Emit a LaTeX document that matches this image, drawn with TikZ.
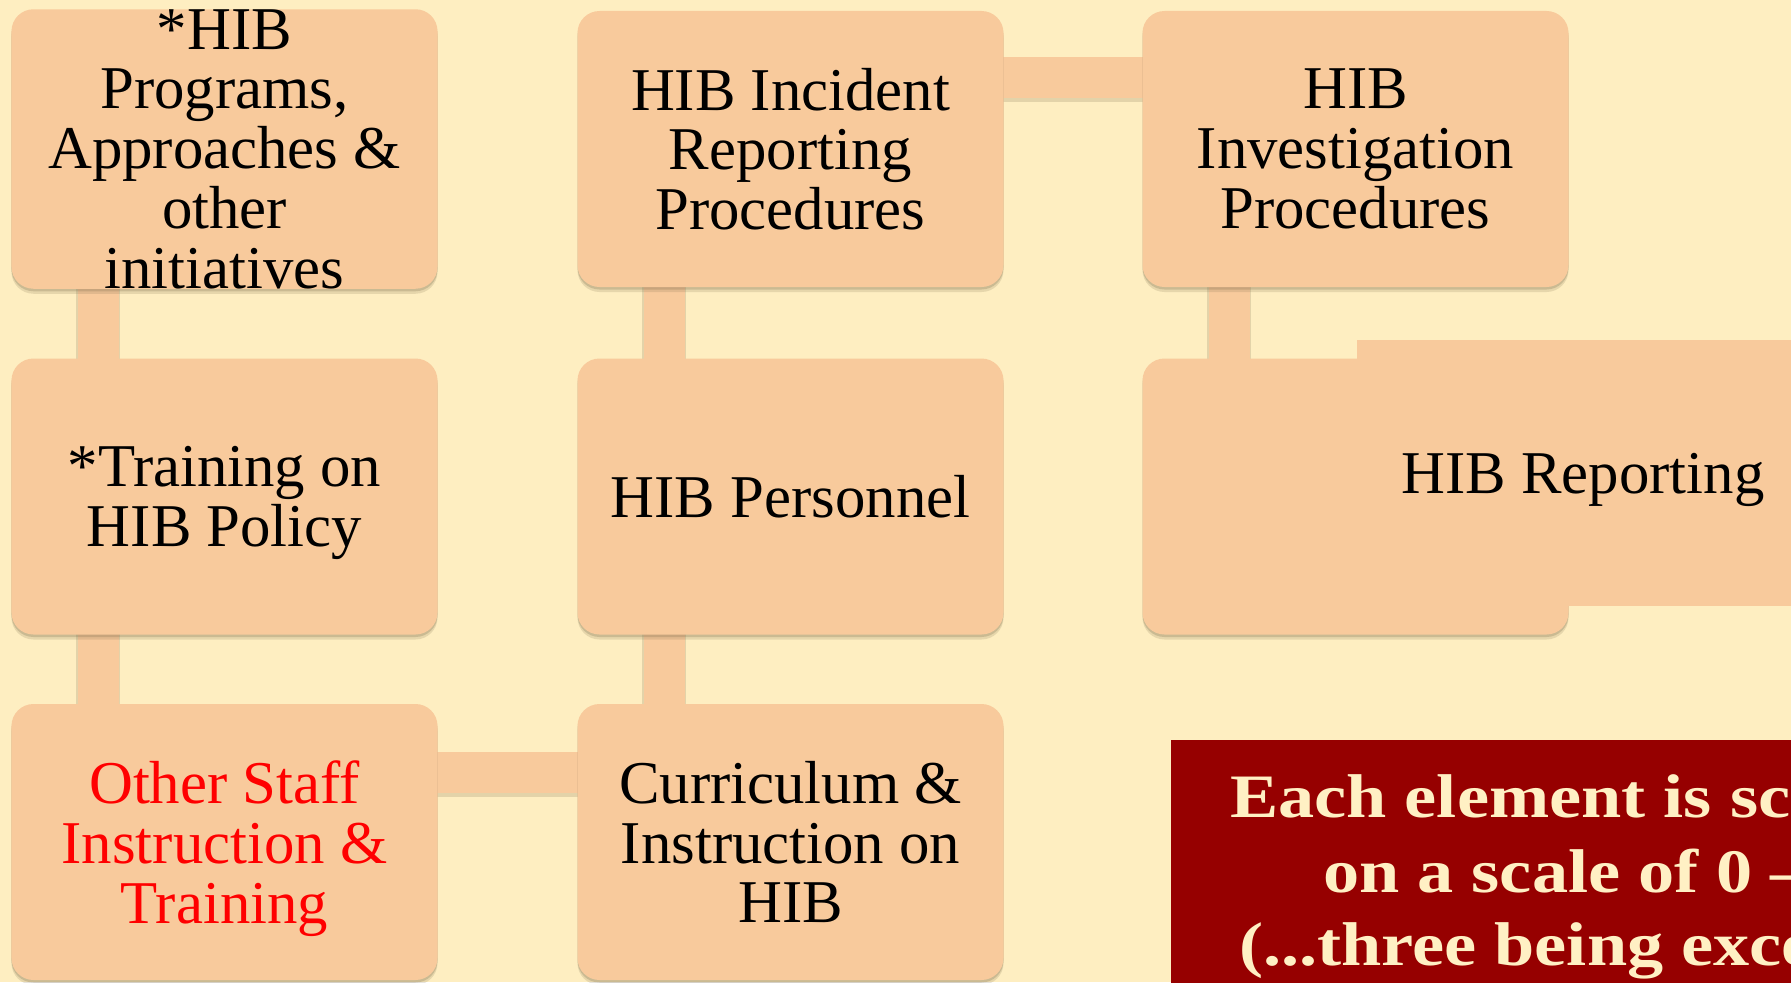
\documentclass[tikz,border=0pt]{standalone}
\usepackage{fontspec}
\setmainfont{Liberation Serif}
\newfontfamily\notefont[FakeStretch=1.17]{Liberation Serif}
\usetikzlibrary{shadows}
\definecolor{bgc}{HTML}{FEEEC1}
\definecolor{boxc}{HTML}{F8CA9C}
\definecolor{redbox}{HTML}{960000}
\definecolor{cream}{HTML}{FFF0C4}
\definecolor{shadc}{HTML}{7A6A4A}
\pgfdeclarelayer{bg}
\pgfdeclarelayer{conn}
\pgfsetlayers{bg,conn,main}
\newcommand{\nodepth}[1]{\raisebox{0pt}[\height][0pt]{#1}}
\tikzset{
  box/.style={rectangle, rounded corners=22bp, fill=boxc, minimum width=426bp,
    minimum height=276bp, inner sep=0pt, align=center, text=black,
    font=\fontsize{61}{60}\selectfont,
    drop shadow={shadow xshift=0bp, shadow yshift=-5bp, opacity=.18, fill=shadc},
    drop shadow={shadow xshift=0bp, shadow yshift=-2.5bp, opacity=.25, fill=shadc}},
  repbox/.style={rectangle, fill=boxc, minimum width=452bp, minimum height=266bp,
    inner sep=0pt, align=center, text=black, font=\fontsize{61}{60}\selectfont},
  bar/.style={line width=41bp, draw=boxc, shorten <=-12bp, shorten >=-12bp,
    preaction={draw=shadc, draw opacity=.2, line width=44bp,
      transform canvas={yshift=-2bp}}},
  notebox/.style={rectangle, fill=redbox, minimum width=700bp, minimum height=260bp,
    inner sep=0pt},
  notetext/.style={inner sep=0pt, text=cream, font=\notefont\bfseries\fontsize{62}{74}\selectfont}
}
\begin{document}
\begin{tikzpicture}[x=1bp,y=-1bp]
\useasboundingbox (0,0) rectangle (1791,982);
\begin{pgfonlayer}{bg}
  \fill[bgc] (0,0) rectangle (1791,982);
\end{pgfonlayer}
\clip (0,0) rectangle (1791,982);

\node[box] (b11) at (224.5,149) {*HIB\\Programs,\\Approaches \&\\other\\initiatives};
\node[box] (b12) at (790.5,149) {HIB Incident\\Reporting\\Procedures};
\node[box] (b13) at (1355.5,149) {HIB\\Investigation\\Procedures};
\node[box] (b21) at (224.5,496.5) {*Training on\\\nodepth{HIB Policy}};
\node[box] (b22) at (790.5,496.5) {HIB Personnel};
\node[box] (b23) at (1355.5,496.5) {};
\node[repbox] (rep) at (1583,473) {\nodepth{HIB Reporting}};
\node[box, text=red] (b31) at (224.5,842) {Other Staff\\Instruction \&\\\nodepth{Training}};
\node[box] (b32) at (790.5,842) {Curriculum \&\\Instruction on\\HIB};

\node[notebox, anchor=north west] (note) at (1171,740) {};
\node[notetext, anchor=base west] (n1) at (1230,817) {Each element is scored};
\node[notetext, anchor=base west] (n2) at (1323,892) {on a scale of 0 – 3};
\node[notetext, anchor=base west] (n3) at (1239,965) {(...three being excellent)};

\begin{pgfonlayer}{conn}
  \draw[bar] ([xshift=87bp]b11.south west) -- ([xshift=87bp]b21.north west);
  \draw[bar] ([xshift=87bp]b21.south west) -- ([xshift=87bp]b31.north west);
  \draw[bar] ([xshift=87bp]b12.south west) -- ([xshift=87bp]b22.north west);
  \draw[bar] ([xshift=87bp]b22.south west) -- ([xshift=87bp]b32.north west);
  \draw[bar] ([xshift=87bp]b13.south west) -- ([xshift=87bp]b23.north west);
  \draw[bar] ([yshift=-67bp]b12.north east) -- ([yshift=-67bp]b13.north west);
  \draw[bar] ([yshift=-69bp]b31.north east) -- ([yshift=-69bp]b32.north west);
\end{pgfonlayer}
\end{tikzpicture}
\end{document}
